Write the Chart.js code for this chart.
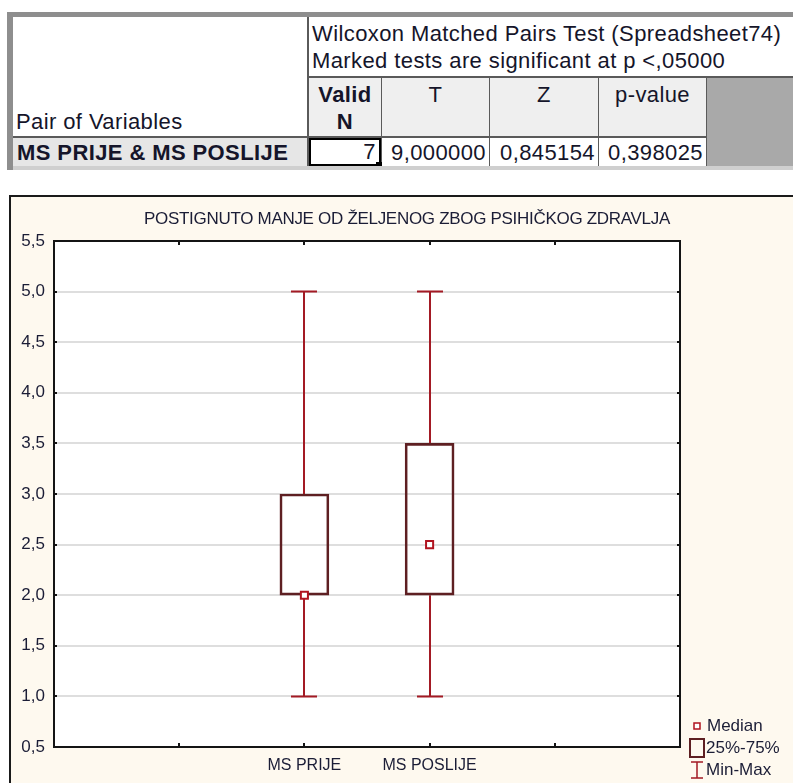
<!DOCTYPE html>
<html>
<head>
<meta charset="utf-8">
<script src="https://cdn.jsdelivr.net/npm/chart.js@4.4.1/dist/chart.umd.min.js"></script>
<style>
  html, body { margin: 0; padding: 0; background: #fff; overflow: hidden; }
  body { width: 793px; height: 783px; position: relative; font-family: Arial, "Liberation Sans", sans-serif; color: #15152a; }
  .c { position: absolute; box-sizing: border-box; }
  .sheet { left: 7px; top: 12px; width: 800px; height: 158px; background: #8e8e8e; }
  .txt { font-size: 22px; letter-spacing: 0.4px; line-height: 27px; white-space: nowrap; }
  .hdr { background: #efefef; text-align: center; }
  .cell { background: #fff; text-align: right; padding-right: 3px; }
  #chartBox { left: 9px; top: 195px; width: 800px; height: 600px; border-left: 2px solid #1a1a1a; border-top: 2px solid #1a1a1a; background: #fef9ef; }
</style>
</head>
<body>
<!-- results sheet -->
<div class="c sheet"></div>
<div class="c" style="left:13px;top:17px;width:800px;height:150px;background:#5a5a5a;"></div>
<div class="c txt" style="left:13px;top:17px;width:294px;height:119px;background:#fff;padding:91px 0 0 3px;">Pair of Variables</div>
<div class="c txt" style="left:309px;top:17px;width:500px;height:59px;background:#fff;padding:3px 0 0 3px;">Wilcoxon Matched Pairs Test (Spreadsheet74)<br>Marked tests are significant at p &lt;,05000</div>
<div class="c txt hdr" style="left:309px;top:78px;width:72px;height:58px;font-weight:bold;padding-top:3px;">Valid<br>N</div>
<div class="c txt hdr" style="left:382px;top:78px;width:107px;height:58px;padding-top:3px;">T</div>
<div class="c txt hdr" style="left:490px;top:78px;width:108px;height:58px;padding-top:3px;">Z</div>
<div class="c txt hdr" style="left:599px;top:78px;width:107px;height:58px;padding-top:3px;">p-value</div>
<div class="c" style="left:707px;top:78px;width:100px;height:88px;background:#a9a9a9;"></div>
<div class="c txt" style="left:13px;top:138px;width:294px;height:28px;background:#e6e6e6;font-weight:bold;padding:1px 0 0 4px;">MS PRIJE &amp; MS POSLIJE</div>
<div class="c txt cell" style="left:309px;top:138px;width:72px;height:28px;border:2px solid #000;line-height:24px;">7</div>
<div class="c" style="left:376px;top:162px;width:7px;height:8px;background:#000;"></div>
<div class="c txt cell" style="left:382px;top:138px;width:107px;height:28px;padding-top:1px;">9,000000</div>
<div class="c txt cell" style="left:490px;top:138px;width:108px;height:28px;padding-top:1px;">0,845154</div>
<div class="c txt cell" style="left:599px;top:138px;width:107px;height:28px;padding-top:1px;">0,398025</div>
<div class="c" style="left:13px;top:166px;width:800px;height:4px;background:#cfcfcf;"></div>

<div class="c" id="chartBox"><canvas id="boxChart" width="784" height="590"></canvas></div>

<script>
// Box plot: POSTIGNUTO MANJE OD ŽELJENOG ZBOG PSIHIČKOG ZDRAVLJA
const chartTitle = 'POSTIGNUTO MANJE OD ŽELJENOG ZBOG PSIHIČKOG ZDRAVLJA';
const categories = ['MS PRIJE', 'MS POSLIJE'];
const minValues = [1.0, 1.0];
const q1Values = [2.0, 2.0];
const medianValues = [2.0, 2.5];
const q3Values = [3.0, 3.5];
const maxValues = [5.0, 5.0];
const yTicks = [0.5, 1.0, 1.5, 2.0, 2.5, 3.0, 3.5, 4.0, 4.5, 5.0, 5.5];
const legendLabels = ['Median', '25%-75%', 'Min-Max'];

const FIRST_SLOT = 2;     // categories sit on slots 2 and 3 of a 0..5 axis
const TEXT_COLOR = '#1b1d36';
const WHISKER_COLOR = '#a31a24';
const BOX_COLOR = '#5e1f22';
const MEDIAN_COLOR = '#b0131f';
const FONT = 'Arial, "Liberation Sans", sans-serif';

const slot = i => i + FIRST_SLOT;

// whiskers, frame, inner ticks, title and legend
const boxPlotExtras = {
    id: 'boxPlotExtras',
    beforeDatasetsDraw(chart) {
        const { ctx, scales: { x, y } } = chart;
        ctx.save();
        ctx.strokeStyle = WHISKER_COLOR;
        ctx.lineWidth = 2;
        categories.forEach((c, i) => {
            const px = Math.round(x.getPixelForValue(slot(i)));
            const capHalf = 13;
            ctx.beginPath();
            ctx.moveTo(px, y.getPixelForValue(maxValues[i]));
            ctx.lineTo(px, y.getPixelForValue(q3Values[i]));
            ctx.moveTo(px, y.getPixelForValue(q1Values[i]));
            ctx.lineTo(px, y.getPixelForValue(minValues[i]));
            ctx.moveTo(px - capHalf, y.getPixelForValue(maxValues[i]));
            ctx.lineTo(px + capHalf, y.getPixelForValue(maxValues[i]));
            ctx.moveTo(px - capHalf, y.getPixelForValue(minValues[i]));
            ctx.lineTo(px + capHalf, y.getPixelForValue(minValues[i]));
            ctx.stroke();
        });
        ctx.restore();
    },
    afterDraw(chart) {
        const { ctx, chartArea: a, scales: { x, y } } = chart;
        ctx.save();
        // plot frame
        ctx.strokeStyle = '#141414';
        ctx.lineWidth = 2;
        ctx.strokeRect(a.left, a.top, a.right - a.left, a.bottom - a.top);
        ctx.beginPath();
        for (let v = 1; v <= 4; v++) {
            const px = Math.round(x.getPixelForValue(v));
            ctx.moveTo(px, a.top); ctx.lineTo(px, a.top + 4);
            ctx.moveTo(px, a.bottom); ctx.lineTo(px, a.bottom - 4);
        }
        yTicks.forEach(v => {
            const py = Math.round(y.getPixelForValue(v));
            ctx.moveTo(a.left, py); ctx.lineTo(a.left + 3, py);
            ctx.moveTo(a.right, py); ctx.lineTo(a.right - 3, py);
        });
        ctx.stroke();

        // title
        ctx.fillStyle = TEXT_COLOR;
        ctx.font = '17px ' + FONT;
        ctx.textAlign = 'center';
        ctx.textBaseline = 'middle';
        ctx.letterSpacing = '-0.3px';
        ctx.fillText(chartTitle, 396, 22);

        // legend
        ctx.letterSpacing = '0px';
        ctx.textAlign = 'left';
        ctx.font = '17px ' + FONT;
        const lx = 683, ly = [529, 551, 573];
        ctx.fillText(legendLabels[0], lx + 13, ly[0]);
        ctx.fillText(legendLabels[1], lx + 12, ly[1]);
        ctx.fillText(legendLabels[2], lx + 12, ly[2]);
        ctx.lineWidth = 1.5;
        ctx.strokeStyle = MEDIAN_COLOR;
        ctx.fillStyle = '#fff';
        ctx.fillRect(lx, ly[0] - 3, 6, 6);
        ctx.strokeRect(lx, ly[0] - 3, 6, 6);
        ctx.strokeStyle = BOX_COLOR;
        ctx.lineWidth = 2;
        ctx.strokeRect(lx - 4, ly[1] - 9, 14, 18);
        ctx.strokeStyle = WHISKER_COLOR;
        ctx.lineWidth = 1.5;
        ctx.beginPath();
        ctx.moveTo(lx - 3, ly[2] - 8); ctx.lineTo(lx + 9, ly[2] - 8);
        ctx.moveTo(lx - 3, ly[2] + 8); ctx.lineTo(lx + 9, ly[2] + 8);
        ctx.moveTo(lx + 3, ly[2] - 8); ctx.lineTo(lx + 3, ly[2] + 8);
        ctx.stroke();
        ctx.restore();
    }
};

// plot area background (white inside the cream frame)
const plotBackground = {
    id: 'plotBackground',
    beforeDraw(chart) {
        const { ctx, chartArea: a } = chart;
        ctx.save();
        ctx.fillStyle = '#ffffff';
        ctx.fillRect(a.left, a.top, a.right - a.left, a.bottom - a.top);
        ctx.restore();
    }
};

const ctx = document.getElementById('boxChart').getContext('2d');
new Chart(ctx, {
    type: 'bar',
    data: {
        datasets: [
            {
                type: 'scatter',
                label: 'Median',
                data: categories.map((c, i) => ({ x: slot(i), y: medianValues[i] })),
                pointStyle: 'rect',
                pointRadius: 5,
                pointBackgroundColor: '#ffffff',
                pointBorderColor: MEDIAN_COLOR,
                pointBorderWidth: 2,
                order: 0
            },
            {
                label: '25%-75%',
                data: categories.map((c, i) => ({ x: slot(i), y: [q1Values[i], q3Values[i]] })),
                backgroundColor: 'rgba(255,255,255,0)',
                borderColor: BOX_COLOR,
                borderWidth: 2,
                borderSkipped: false,
                barThickness: 49,
                order: 1
            }
        ]
    },
    options: {
        responsive: false,
        animation: false,
        devicePixelRatio: 1,
        layout: { padding: { top: 44, right: 115, bottom: 0, left: 0 } },
        plugins: {
            legend: { display: false },
            tooltip: { enabled: false },
            title: { display: false }
        },
        scales: {
            x: {
                type: 'linear',
                min: 0,
                max: 5,
                offset: false,
                afterFit: s => { s.height = 40; },
                afterBuildTicks: s => { s.ticks = categories.map((c, i) => ({ value: slot(i) })); },
                ticks: {
                    callback: v => categories[v - FIRST_SLOT] || '',
                    color: TEXT_COLOR,
                    font: { family: FONT, size: 16 },
                    padding: 9,
                    maxRotation: 0
                },
                grid: { display: false, drawTicks: false, offset: false },
                border: { display: false }
            },
            y: {
                min: 0.5,
                max: 5.5,
                afterFit: s => { s.width = 43; },
                afterBuildTicks: s => { s.ticks = yTicks.map(v => ({ value: v })); },
                ticks: {
                    callback: v => v.toFixed(1).replace('.', ','),
                    color: TEXT_COLOR,
                    font: { family: FONT, size: 17 },
                    padding: 9
                },
                grid: { color: '#dedede', lineWidth: 2, drawTicks: false },
                border: { display: false }
            }
        }
    },
    plugins: [plotBackground, boxPlotExtras]
});
</script>
</body>
</html>
